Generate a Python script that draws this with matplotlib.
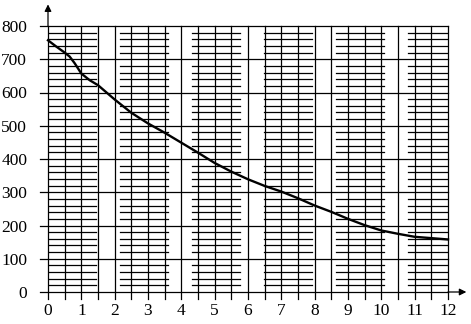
import numpy as np
import matplotlib
matplotlib.use("Agg")
import matplotlib.pyplot as plt

# curve
x_vals = [0, 0.25, 0.5, 0.65, 0.8, 1.0, 1.25, 1.5, 2, 2.5, 3, 3.5, 4, 4.5, 5, 5.5,
          6, 6.5, 7, 7.5, 8, 8.5, 9, 9.5, 10, 10.5, 11, 11.5, 12]
y_vals = [757, 738, 720, 708, 688, 657, 637, 622, 579, 539, 507, 479, 449, 419, 388, 362,
          339, 319, 302, 282, 260, 241, 220, 201, 185, 175, 166, 162, 158]
x_ticks = list(range(0, 13))
y_ticks = list(range(0, 900, 100))

plt.rcParams["font.family"] = ["Liberation Serif", "DejaVu Serif"]

fig = plt.figure(figsize=(4.71, 3.24), dpi=100)
ax = fig.add_axes([48 / 471, 32 / 324, 400 / 471, 266 / 324])
ax.set_xlim(0, 12)
ax.set_ylim(0, 800)
for s in ax.spines.values():
    s.set_visible(False)

lw = 0.9
k = "black"

# vertical grid every 0.5, with little tails below the axis
for xv in np.arange(0, 12.01, 0.5):
    ax.plot([xv, xv], [-21, 800], color=k, lw=lw, clip_on=False)

# major horizontal lines, with tails left of the axis
for yv in y_ticks:
    ax.plot([-0.24, 12], [yv, yv], color=k, lw=lw, clip_on=False)

# minor horizontal lines in broken bands
period, band = 2.16, 1.44
for yv in range(20, 800, 20):
    if yv % 100 == 0:
        continue
    start = 0.0
    while start < 12:
        ax.plot([start, min(start + band, 12)], [yv, yv], color=k, lw=lw)
        start += period

# axis arrows
ax.annotate("", xy=(12.55, 0), xytext=(12, 0), annotation_clip=False,
            arrowprops=dict(arrowstyle="-|>", color=k, lw=lw, mutation_scale=10,
                            shrinkA=0, shrinkB=0))
ax.annotate("", xy=(0, 865), xytext=(0, 800), annotation_clip=False,
            arrowprops=dict(arrowstyle="-|>", color=k, lw=lw, mutation_scale=10,
                            shrinkA=0, shrinkB=0))

ax.plot(x_vals, y_vals, color=k, lw=1.7, clip_on=False, zorder=5)

ax.set_xticks(x_ticks)
ax.set_yticks(y_ticks)
ax.tick_params(length=0, labelsize=12.5)
ax.tick_params(axis="x", pad=8)
ax.tick_params(axis="y", pad=15)

fig.savefig("out.png", dpi=100)
